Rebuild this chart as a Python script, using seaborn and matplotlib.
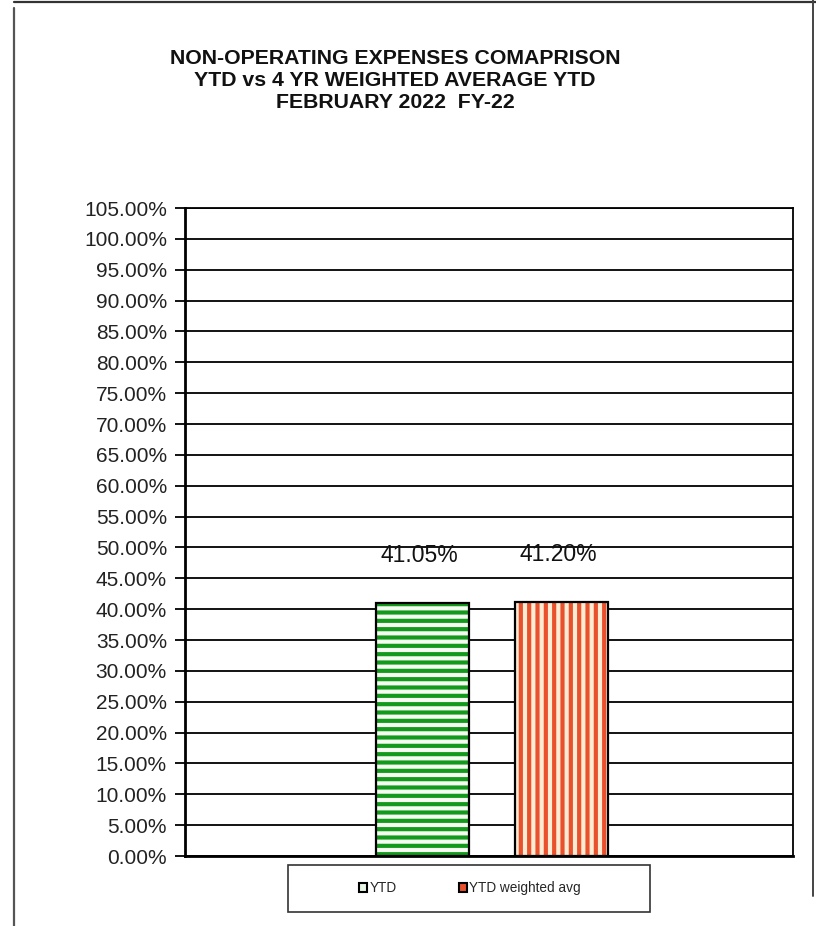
import matplotlib
matplotlib.use("Agg")
import matplotlib.pyplot as plt
from matplotlib.lines import Line2D
from matplotlib.patches import Patch, Rectangle
from matplotlib.ticker import FuncFormatter, MultipleLocator
import pandas as pd
import seaborn as sns

# Data
series = ["YTD", "YTD weighted avg"]
values = [0.4105, 0.4120]
labels = ["41.05%", "41.20%"]
stripe_colors = ["#139a1c", "#e9502c"]
back_colors = ["#f6fcf2", "#fdebd4"]
hatches = ["--", "||"]

title_lines = [
    "NON-OPERATING EXPENSES COMAPRISON",
    "YTD vs 4 YR WEIGHTED AVERAGE YTD",
    "FEBRUARY 2022  FY-22",
]

sns.set_theme(style="white")
plt.rcParams["font.family"] = ["Liberation Sans", "DejaVu Sans"]
plt.rcParams["hatch.linewidth"] = 3.0

df = pd.DataFrame({"cat": [""] * len(series), "series": series, "value": values})

fig = plt.figure(figsize=(8.16, 9.26), dpi=100)
fig.patch.set_facecolor("white")
ax = fig.add_axes([185 / 816, 70 / 926, 608 / 816, 648 / 926])

ax.set_ylim(0, 1.05)
ax.yaxis.set_major_locator(MultipleLocator(0.05))
ax.grid(axis="y", color="black", linewidth=1.3)
ax.set_axisbelow(True)

# Striped bars
sns.barplot(data=df, x="cat", y="value", hue="series", hue_order=series,
            dodge=True, width=1.0, gap=0.33, ax=ax, legend=False,
            palette=back_colors, linewidth=0, saturation=1)
for p, c, h in zip(ax.patches, stripe_colors, hatches):
    p.set_hatch(h)
    p.set_edgecolor(c)
    p.set_linewidth(0)
    p.set_zorder(2)

# Bar outlines
sns.barplot(data=df, x="cat", y="value", hue="series", hue_order=series,
            dodge=True, width=1.0, gap=0.33, ax=ax, legend=False,
            fill=False, edgecolor="black", linewidth=1.6)
for p in ax.patches[len(series):]:
    p.set_zorder(3)

# Value labels
bars = ax.patches[:len(series)]
for p, v, lab in zip(bars, values, labels):
    ax.annotate(lab, (p.get_x() + p.get_width() / 2, v), xytext=(-2, 34),
                textcoords="offset points", ha="center", va="center",
                fontsize=16.5, color="#111111", fontweight="medium")

ax.set_xlim(-1.104, 1.083)
ax.set_xlabel("")
ax.set_ylabel("")
ax.set_xticks([])
ax.yaxis.set_major_formatter(FuncFormatter(lambda y, _: f"{y * 100:.2f}%"))
ax.tick_params(axis="y", left=True, length=7, width=1.3, color="black",
               labelsize=15, labelcolor="#222222", pad=6)
for side, sp in ax.spines.items():
    sp.set_visible(True)
    sp.set_color("black")
    sp.set_linewidth(1.3)
ax.spines["left"].set_linewidth(2)
ax.spines["bottom"].set_linewidth(2)

# Title
for i, line in enumerate(title_lines):
    fig.text(395 / 816, 1 - (58 + 22 * i) / 926, line, ha="center", va="center",
             fontsize=15.3, fontweight="bold", color="#111111")

# Legend with its own box
handles = [Patch(facecolor=c, edgecolor="black", linewidth=1.5) for c in ["#e8f6e6", stripe_colors[1]]]
fig.legend(handles, series, loc="center", bbox_to_anchor=(470 / 816, 1 - 888 / 926),
           ncol=2, frameon=False, fontsize=9.8, handlelength=0.6, handleheight=0.6,
           handletextpad=0.15, columnspacing=4.6)
fig.add_artist(Rectangle((288 / 816, 1 - 912 / 926), 362 / 816, 47 / 926,
                         transform=fig.transFigure, fill=False,
                         edgecolor="#333333", linewidth=1.2))

# Page border
fig.add_artist(Line2D([14 / 816, 14 / 816], [0, 1 - 8 / 926], transform=fig.transFigure,
                      color="#555555", linewidth=1.6))
fig.add_artist(Line2D([14 / 816, 1], [1 - 2 / 926, 1 - 2 / 926], transform=fig.transFigure,
                      color="#333333", linewidth=1.6))
fig.add_artist(Line2D([813 / 816, 813 / 816], [1 - 896 / 926, 1], transform=fig.transFigure,
                      color="#444444", linewidth=1.4))

fig.savefig("out.png", dpi=100)
